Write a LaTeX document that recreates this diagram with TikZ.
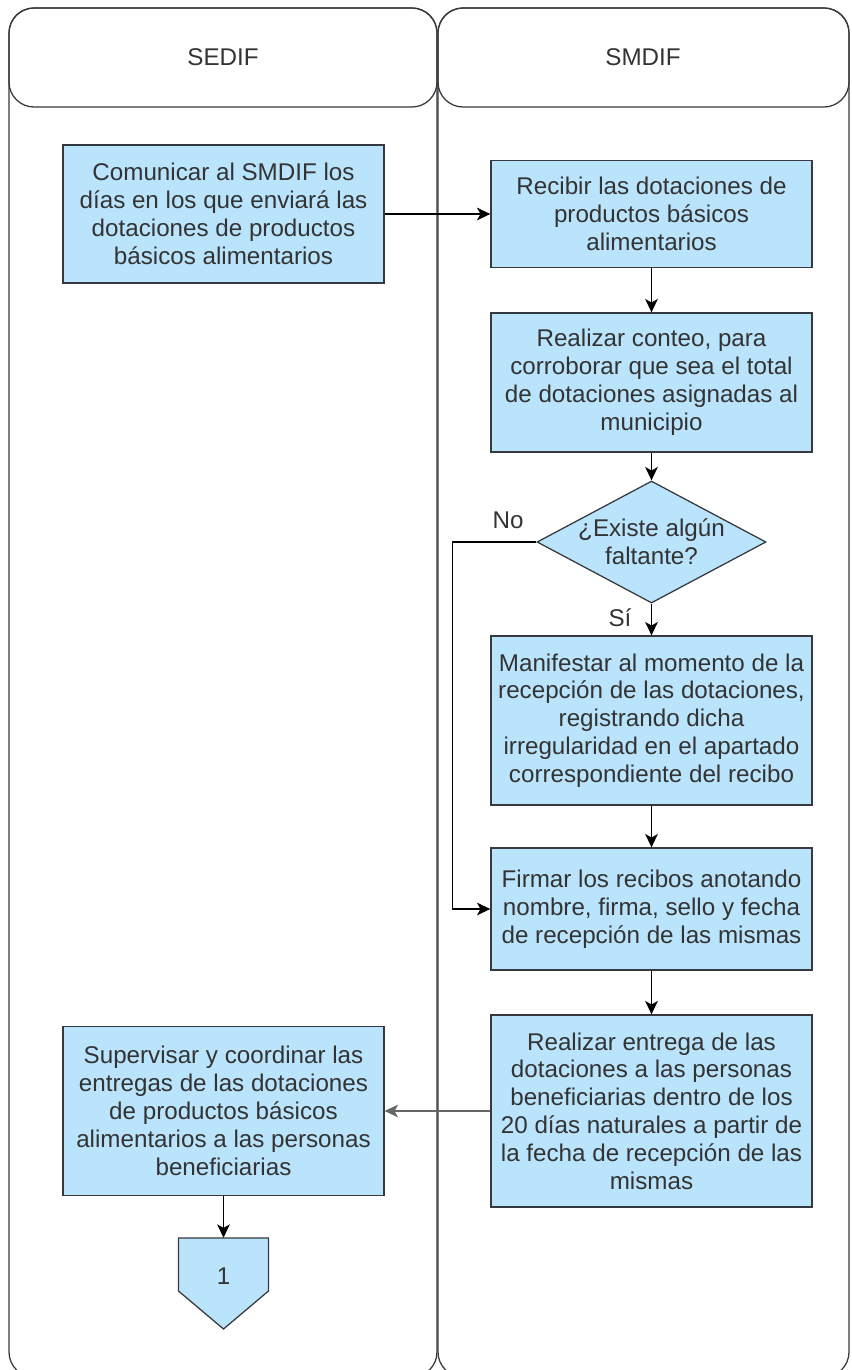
\documentclass[tikz,border=0pt]{standalone}
\usepackage{fontspec}
\setmainfont{Liberation Sans}
\usetikzlibrary{arrows.meta,shapes.geometric}
\definecolor{cajaazul}{RGB}{186,228,252}
\definecolor{bordegris}{RGB}{54,57,61}
\definecolor{textogris}{RGB}{51,51,51}
\begin{document}
\begin{tikzpicture}[x=0.025cm,y=-0.025cm,
	texto/.style={font=\fontsize{17.2}{19.8}\selectfont, text=textogris},
	carril/.style={draw=bordegris, line width=0.9pt, rounded corners=0.625cm},
	caja/.style={texto, draw=bordegris, fill=cajaazul, line width=0.9pt, align=center, minimum width=8.025cm, inner sep=0pt},
	decision/.style={draw=bordegris, fill=cajaazul, line width=0.9pt, diamond, inner sep=0pt, minimum width=5.725cm, minimum height=3.05cm},
	flecha/.style={line width=1pt, -{Stealth[length=9.5pt, width=9pt, inset=2.5pt]}},
	flechagris/.style={flecha, draw=black!60}]
	\useasboundingbox (0,0) rectangle (851,1370);
	\begin{scope}
	\clip (0,0) rectangle (851,1370);
	\draw[carril] (9,8) rectangle (437,1377);
	\draw[carril] (9,8) rectangle (437,107);
	\draw[carril] (438,8) rectangle (849,1377);
	\draw[carril] (438,8) rectangle (849,107);
	\end{scope}
	\node[texto] (sedif) at (223,57) {SEDIF};
	\node[texto] (smdif) at (643,57) {SMDIF};
	\node[caja, minimum height=3.45cm] (comunicar) at (223.5,214) {Comunicar al SMDIF los\\días en los que enviará las\\dotaciones de productos\\básicos alimentarios};
	\node[caja, minimum height=2.675cm] (recibir) at (651.5,214) {Recibir las dotaciones de\\productos básicos\\alimentarios};
	\node[caja, minimum height=3.475cm] (conteo) at (651.5,382.5) {Realizar conteo, para\\corroborar que sea el total\\de dotaciones asignadas al\\municipio};
	\node[decision, label={[texto, align=center]center:¿Existe algún\\faltante?}] (faltante) at (651.5,542) {};
	\node[caja, minimum height=4.225cm] (manifestar) at (651.5,720.5) {Manifestar al momento de la\\recepción de las dotaciones,\\registrando dicha\\irregularidad en el apartado\\correspondiente del recibo};
	\node[caja, minimum height=3.05cm] (firmar) at (651.5,909) {Firmar los recibos anotando\\nombre, firma, sello y fecha\\de recepción de las mismas};
	\node[caja, minimum height=4.8cm] (entrega) at (651.5,1111) {Realizar entrega de las\\dotaciones a las personas\\beneficiarias dentro de los\\20 días naturales a partir de\\la fecha de recepción de las\\mismas};
	\node[caja, minimum height=4.225cm] (supervisar) at (223.5,1111) {Supervisar y coordinar las\\entregas de las dotaciones\\de productos básicos\\alimentarios a las personas\\beneficiarias};
	\filldraw[fill=cajaazul, draw=bordegris, line width=0.9pt] (178.5,1238) -- (268.5,1238) -- (268.5,1291) -- (223.5,1329) -- (178.5,1291) -- cycle;
	\node[texto, minimum width=2.25cm, minimum height=1.9cm, inner sep=0pt] (conector) at (223.5,1276) {1};
	\node[texto] (no) at (508,520) {No};
	\node[texto] (si) at (620,618) {Sí};
	\draw[flecha] (comunicar.east) -- (recibir.west);
	\draw[flecha] (recibir.south) -- (conteo.north);
	\draw[flecha] (conteo.south) -- (faltante.north);
	\draw[flecha] (faltante.south) -- (manifestar.north);
	\draw[flecha] (faltante.west) -- ++(-84,0) |- (firmar.west);
	\draw[flecha] (manifestar.south) -- (firmar.north);
	\draw[flecha] (firmar.south) -- (entrega.north);
	\draw[flechagris] (entrega.west) -- (supervisar.east);
	\draw[flecha] (supervisar.south) -- (conector.north);
\end{tikzpicture}
\end{document}
